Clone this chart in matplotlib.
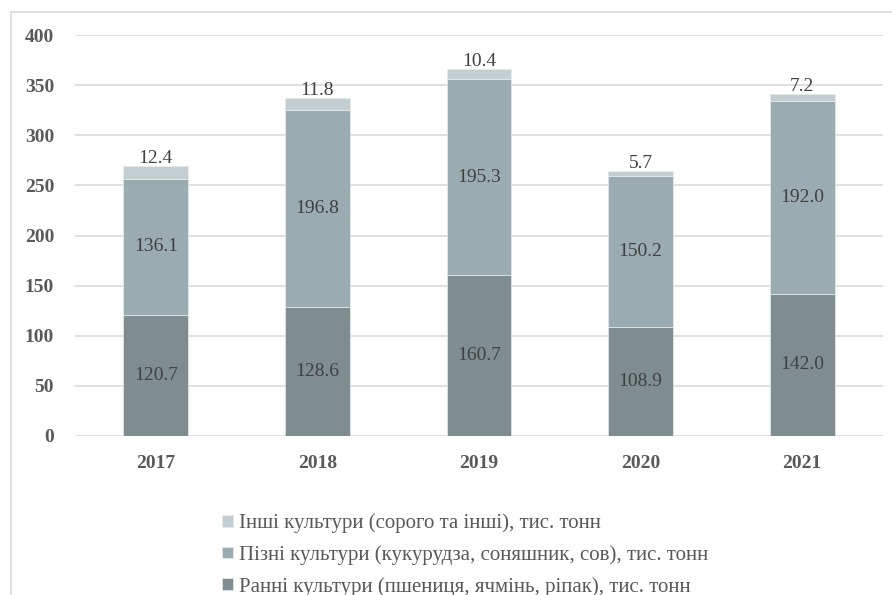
import matplotlib.pyplot as plt
import matplotlib.patches as mpatches
import numpy as np

years = ["2017", "2018", "2019", "2020", "2021"]
early = [120.7, 128.6, 160.7, 108.9, 142.0]
late = [136.1, 196.8, 195.3, 150.2, 192.0]
other = [12.4, 11.8, 10.4, 5.7, 7.2]

labels = [
    "Ранні культури (пшениця, ячмінь, ріпак), тис. тонн",
    "Пізні культури (кукурудза, соняшник, сов), тис. тонн",
    "Інші культури (сорого та інші), тис. тонн",
]
colors = ["#7f8d91", "#9aabb2", "#c3ced1"]

plt.rcParams["font.family"] = ["Liberation Serif", "DejaVu Serif"]

fig = plt.figure(figsize=(8.92, 5.95), dpi=100)
ax = fig.add_axes([75 / 892, (595 - 436) / 595, 808 / 892, 401 / 595])

x = np.arange(len(years))
w = 0.40
early_a = np.array(early)
late_a = np.array(late)
other_a = np.array(other)

b1 = ax.bar(x, early_a, w, color=colors[0], edgecolor="#e6ecee", linewidth=0.5, zorder=3)
b2 = ax.bar(x, late_a, w, bottom=early_a, color=colors[1], edgecolor="#e6ecee", linewidth=0.5, zorder=3)
b3 = ax.bar(x, other_a, w, bottom=early_a + late_a, color=colors[2], edgecolor="#e6ecee", linewidth=0.5, zorder=3)

lab_col = "#404040"
for i in range(len(years)):
    ax.text(x[i], early_a[i] / 2, f"{early[i]:.1f}", ha="center", va="center",
            fontsize=14, color=lab_col, zorder=4)
    ax.text(x[i], early_a[i] + late_a[i] / 2, f"{late[i]:.1f}", ha="center", va="center",
            fontsize=14, color=lab_col, zorder=4)
    top = early_a[i] + late_a[i] + other_a[i]
    ax.text(x[i], top - 1, f"{other[i]:.1f}", ha="center", va="bottom",
            fontsize=14, color=lab_col, zorder=4)

ax.set_xlim(-0.5, 4.5)
ax.set_ylim(0, 400)
ax.set_yticks(range(0, 401, 50))
ax.set_xticks(x)
ax.set_xticklabels(years)
ax.yaxis.grid(True, color="#d9d9d9", linewidth=1.2, zorder=0)
ax.set_axisbelow(True)
for s in ax.spines.values():
    s.set_visible(False)
ax.tick_params(length=0, labelsize=14, labelcolor="#595959")
ax.tick_params(axis="x", pad=14)
ax.tick_params(axis="y", pad=15)
for t in ax.get_xticklabels() + ax.get_yticklabels():
    t.set_fontweight("bold")

# chart border (cut off on right and bottom like the source picture)
fig.patches.append(mpatches.Rectangle((10.5 / 892, -0.1), 1.0, (595 - 12) / 595 + 0.1,
                                      transform=fig.transFigure, fill=False,
                                      edgecolor="#d9d9d9", linewidth=1.2))

handles = [b3, b2, b1]
fig.legend(handles, labels[::-1], loc="upper left",
           bbox_to_anchor=(214 / 892, 1 - 505 / 595), frameon=False,
           fontsize=15, labelcolor="#595959", handlelength=0.5, handleheight=0.5,
           handletextpad=0.3, labelspacing=0.58, borderaxespad=0)

fig.savefig("out.png", dpi=100)
